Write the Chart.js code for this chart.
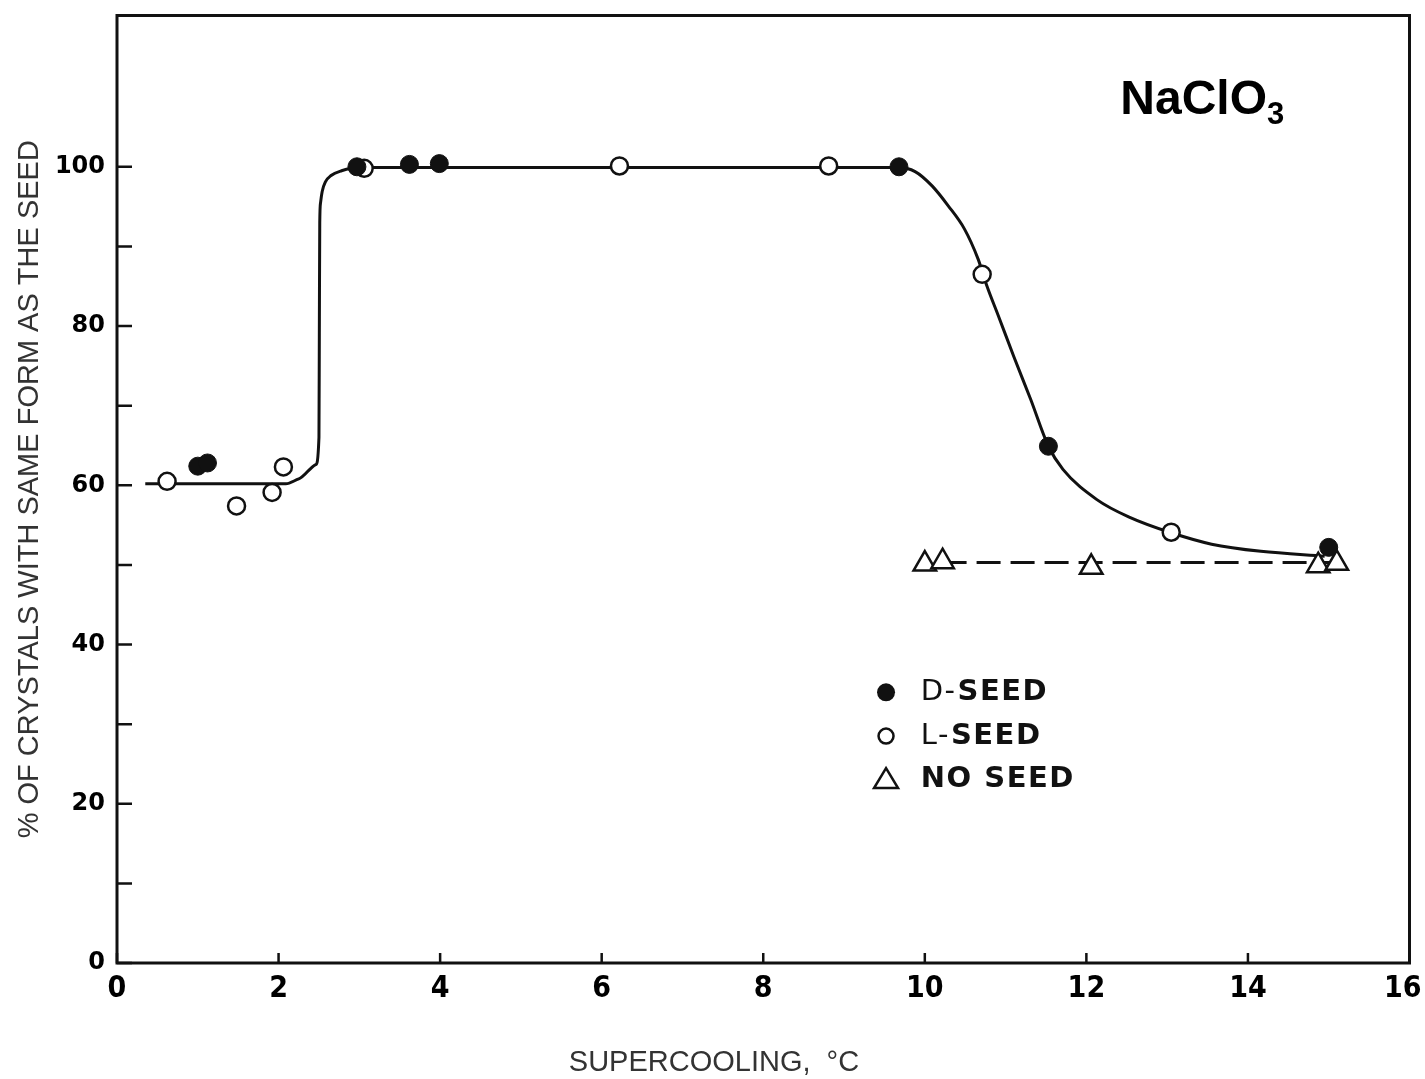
<!DOCTYPE html>
<html>
<head>
<meta charset="utf-8">
<script src="https://cdn.jsdelivr.net/npm/chart.js@4.4.1/dist/chart.umd.min.js"></script>
<style>
  body { margin: 0; background: #fff; }
  #wrap { width: 1425px; height: 1079px; position: relative; }
</style>
</head>
<body>
<div id="wrap"><canvas id="myChart"></canvas></div>
<script>
// tick labels
const xTicks = [0, 2, 4, 6, 8, 10, 12, 14, 16];
const yTicks = [0, 20, 40, 60, 80, 100];
const yMinorTicks = [10, 30, 50, 70, 90];

// measured points
const dSeedX = [1.0, 1.12, 2.97, 3.62, 3.99, 9.68, 11.53, 15.0];
const dSeedY = [62.4, 62.8, 100, 100.3, 100.4, 100, 64.9, 52.2];
const lSeedX = [0.62, 1.48, 1.92, 2.06, 3.06, 6.22, 8.81, 10.71, 13.05];
const lSeedY = [60.5, 57.4, 59.1, 62.3, 99.8, 100.1, 100.1, 86.5, 54.1];
const noSeedX = [10.0, 10.22, 12.06, 14.87, 15.1];
const noSeedY = [50.1, 50.4, 49.7, 49.9, 50.2];

// drawn curves
const curveX = [0.35, 2.09, 2.25, 2.46, 2.5, 2.505, 2.51, 2.52, 2.54, 2.58, 2.65, 2.78, 3.0, 9.67, 9.88, 10.09, 10.29, 10.49, 10.66, 10.77, 10.91, 11.1, 11.31, 11.53, 11.71, 12.13, 12.53, 13.06, 13.55, 14.16, 14.95];
const curveY = [60.2, 60.2, 60.8, 62.6, 66, 80, 93, 95.5, 96.9, 98.1, 98.9, 99.5, 99.9, 99.9, 99.4, 97.6, 95.1, 92.2, 88.4, 85.0, 81.3, 76.2, 70.8, 64.9, 62.0, 58.2, 56.0, 54.0, 52.6, 51.7, 51.1];
const dashX = [10.22, 15.1];
const dashY = [50.3, 50.3];

function pts(xs, ys) {
  return xs.map((v, i) => ({ x: v, y: ys[i] }));
}

const INK = '#111';

// box frame + inward ticks
const frame = {
  id: 'frame',
  beforeDatasetsDraw(chart) {
    const { ctx, chartArea: a, scales: { x, y } } = chart;
    ctx.save();
    ctx.strokeStyle = INK;
    ctx.lineWidth = 3;
    ctx.strokeRect(a.left, a.top, a.right - a.left, a.bottom - a.top);
    ctx.lineWidth = 2.5;
    ctx.beginPath();
    yTicks.concat(yMinorTicks).forEach(v => {
      const py = y.getPixelForValue(v);
      ctx.moveTo(a.left, py);
      ctx.lineTo(a.left + 15, py);
    });
    xTicks.forEach(v => {
      const px = x.getPixelForValue(v);
      ctx.moveTo(px, a.bottom);
      ctx.lineTo(px, a.bottom - 10);
    });
    ctx.stroke();
    ctx.restore();
  }
};

// legend box, compound label, x title
const notes = {
  id: 'notes',
  afterDraw(chart) {
    const { ctx, scales: { x, y } } = chart;
    ctx.save();
    const sx = x.getPixelForValue(9.52);
    const tx = x.getPixelForValue(9.95);
    const rows = [34.0, 28.5, 23.1].map(v => y.getPixelForValue(v));
    ctx.strokeStyle = INK;
    ctx.fillStyle = INK;
    ctx.lineWidth = 2.5;
    // filled circle
    ctx.beginPath(); ctx.arc(sx, rows[0], 9, 0, Math.PI * 2); ctx.fill();
    // open circle
    ctx.beginPath(); ctx.arc(sx, rows[1], 7.5, 0, Math.PI * 2); ctx.stroke();
    // triangle
    ctx.beginPath();
    ctx.moveTo(sx, rows[2] - 11);
    ctx.lineTo(sx + 12, rows[2] + 9);
    ctx.lineTo(sx - 12, rows[2] + 9);
    ctx.closePath(); ctx.stroke();

    ctx.textBaseline = 'middle';
    ctx.textAlign = 'left';
    ctx.letterSpacing = '1.5px';
    const reg = '29px "DejaVu Sans"';
    const bold = 'bold 29px "DejaVu Sans"';
    ctx.font = reg; ctx.fillText('D-', tx, rows[0]);
    let w = ctx.measureText('D-').width;
    ctx.font = bold; ctx.fillText('SEED', tx + w + 1, rows[0]);
    ctx.font = reg; ctx.fillText('L-', tx, rows[1]);
    w = ctx.measureText('L-').width;
    ctx.font = bold; ctx.fillText('SEED', tx + w + 1, rows[1]);
    ctx.font = bold; ctx.fillText('NO SEED', tx, rows[2]);
    ctx.letterSpacing = '0px';

    // NaClO3
    const nx = x.getPixelForValue(12.42);
    const ny = y.getPixelForValue(106.6);
    ctx.textBaseline = 'alphabetic';
    ctx.font = 'bold 48px "Liberation Sans", Arial, sans-serif';
    ctx.fillStyle = '#000';
    ctx.fillText('NaClO', nx, ny);
    const nw = ctx.measureText('NaClO').width;
    ctx.font = 'bold 31px "Liberation Sans", Arial, sans-serif';
    ctx.fillText('3', nx + nw, ny + 10);

    // x axis title, sits left of centre in the original
    ctx.fillStyle = '#333';
    ctx.font = '29px "Liberation Sans", Arial, sans-serif';
    ctx.textAlign = 'center';
    ctx.textBaseline = 'middle';
    ctx.fillText('SUPERCOOLING,  °C', x.getPixelForValue(7.39), 1063);
    ctx.restore();
  }
};

const ctx = document.getElementById('myChart');
new Chart(ctx, {
  type: 'scatter',
  data: {
    datasets: [
      {
        label: 'D-SEED',
        data: pts(dSeedX, dSeedY),
        pointStyle: 'circle',
        radius: 9,
        backgroundColor: INK,
        borderColor: INK,
        borderWidth: 1,
        order: 1
      },
      {
        label: 'L-SEED',
        data: pts(lSeedX, lSeedY),
        pointStyle: 'circle',
        radius: 8.5,
        backgroundColor: '#fff',
        borderColor: INK,
        borderWidth: 2.5,
        order: 1
      },
      {
        label: 'NO SEED',
        data: pts(noSeedX, noSeedY),
        pointStyle: 'triangle',
        radius: 13,
        backgroundColor: '#fff',
        borderColor: INK,
        borderWidth: 2.5,
        order: 1
      },
      {
        label: 'fit',
        type: 'line',
        data: pts(curveX, curveY),
        borderColor: INK,
        borderWidth: 3,
        pointRadius: 0,
        fill: false,
        cubicInterpolationMode: 'monotone',
        order: 2
      },
      {
        label: 'no seed fit',
        type: 'line',
        data: pts(dashX, dashY),
        borderColor: INK,
        borderWidth: 3,
        borderDash: [24, 10],
        pointRadius: 0,
        fill: false,
        order: 2
      }
    ]
  },
  options: {
    responsive: true,
    maintainAspectRatio: false,
    animation: false,
    clip: false,
    layout: { padding: { left: 0, top: 15, right: 13, bottom: 0 } },
    plugins: {
      legend: { display: false },
      tooltip: { enabled: false }
    },
    scales: {
      x: {
        type: 'linear',
        min: 0,
        max: 16,
        afterBuildTicks: s => { s.ticks = xTicks.map(v => ({ value: v })); },
        afterFit: s => { s.height = 116; s.paddingLeft = 0; s.paddingRight = 0; },
        grid: { display: false, drawTicks: false },
        border: { display: false },
        ticks: {
          padding: 8,
          color: '#000',
          // last label sits against the page edge, nudge it inward
          callback: v => (v === 16 ? '16\u2002' : String(v)),
          font: { family: '"Liberation Sans Narrow", "DejaVu Sans Condensed", sans-serif', weight: 'bold', size: 30 }
        },
        title: { display: false }
      },
      y: {
        type: 'linear',
        min: 0,
        max: 119,
        afterBuildTicks: s => { s.ticks = yTicks.map(v => ({ value: v })); },
        afterFit: s => { s.width = 117; s.paddingTop = 0; s.paddingBottom = 0; },
        grid: { display: false, drawTicks: false },
        border: { display: false },
        ticks: {
          padding: 12,
          color: '#000',
          font: { family: '"DejaVu Sans", sans-serif', weight: 'bold', size: 24 }
        },
        title: {
          display: true,
          text: '% OF CRYSTALS WITH SAME FORM AS THE SEED',
          color: '#333',
          font: { family: '"Liberation Sans", Arial, sans-serif', size: 29 },
          padding: { top: 13, bottom: 0 }
        }
      }
    }
  },
  plugins: [frame, notes]
});
</script>
</body>
</html>
